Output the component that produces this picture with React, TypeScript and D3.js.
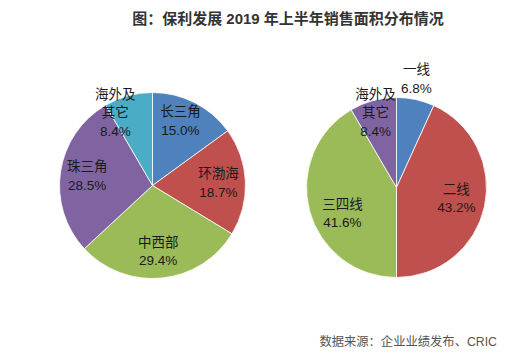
import React from "react";
import * as d3 from "d3";

const leftNames = ["长三角", "环渤海", "中西部", "珠三角", "海外及\n其它"];
const leftValues = [15.0, 18.7, 29.4, 28.5, 8.4];
const rightNames = ["一线", "二线", "三四线", "海外及\n其它"];
const rightValues = [6.8, 43.2, 41.6, 8.4];

const palette = ["#4F81BD", "#C0504D", "#9BBB59", "#8064A2", "#4BACC6"];
const leftColors = [palette[0], palette[1], palette[2], palette[3], palette[4]];
const rightColors = [palette[0], palette[1], palette[2], palette[3]];

// label nudges (layout only)
const leftNudge: [number, number][] = [[-2, -6], [0, 0], [-1, 0], [0, 0], [-20, -9]];
const rightNudge: [number, number][] = [[7, -49], [0, -2], [5, 10], [-5, -16]];

const FONT = "'Liberation Sans', Arial, 'Noto Sans CJK SC', sans-serif";

function Pie({ cx, cy, r, names, values, colors, labelK, nudge }: any) {
  const pie = d3.pie<number>().sort(null).value((d) => d);
  const arcs = pie(values);
  const arc = d3.arc<d3.PieArcDatum<number>>().innerRadius(0).outerRadius(r);
  const labelArc = d3.arc<d3.PieArcDatum<number>>().innerRadius(r * labelK).outerRadius(r * labelK);
  return (
    <g transform={`translate(${cx},${cy})`}>
      {arcs.map((a, i) => (
        <path key={i} d={arc(a) || ""} fill={colors[i]} stroke="#fff" strokeWidth={0.8} />
      ))}
      {arcs.map((a, i) => {
        const [x, y] = labelArc.centroid(a);
        const lines = [...names[i].split("\n"), d3.format(".1f")(values[i]) + "%"];
        const lh = 18.5;
        const x0 = x + nudge[i][0];
        const y0 = y + nudge[i][1] - ((lines.length - 1) * lh) / 2;
        return (
          <text key={"t" + i} textAnchor="middle" fontSize={13.5} fill="#1a1a1a" fontFamily={FONT}>
            {lines.map((l: string, j: number) => (
              <tspan key={j} x={x0} y={y0 + j * lh} dy="0.35em">{l}</tspan>
            ))}
          </text>
        );
      })}
    </g>
  );
}

export default function App() {
  return (
    <svg width={521} height={357} style={{ position: "absolute", left: 0, top: 0, background: "#fff" }}>
      <text x={288} y={19} dy="0.35em" textAnchor="middle" fontSize={15} fontWeight="bold" fill="#333" fontFamily={FONT}>
        图：保利发展 2019 年上半年销售面积分布情况
      </text>
      <Pie cx={152.5} cy={185.5} r={93} names={leftNames} values={leftValues} colors={leftColors} labelK={0.71} nudge={leftNudge} />
      <Pie cx={396.5} cy={187.5} r={90} names={rightNames} values={rightValues} colors={rightColors} labelK={0.68} nudge={rightNudge} />
      <text x={497} y={342} dy="0.35em" textAnchor="end" fontSize={12.3} fill="#555" fontFamily={FONT}>
        数据来源：企业业绩发布、CRIC
      </text>
    </svg>
  );
}
